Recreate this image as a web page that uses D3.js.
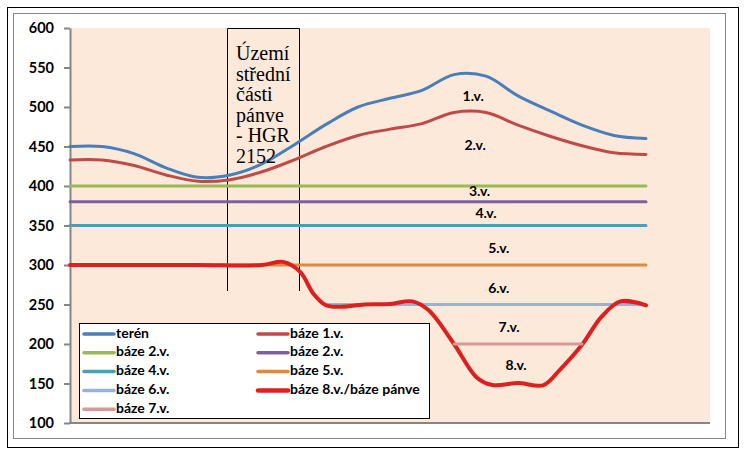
<!DOCTYPE html>
<html><head><meta charset="utf-8">
<script src="https://cdn.jsdelivr.net/npm/d3@7"></script>
<style>html,body{margin:0;padding:0;background:#fff;}svg{display:block;}</style>
</head><body>
<svg id="c" width="747" height="454"></svg>
<script>
// ---- data ----
const yTicks = [100,150,200,250,300,350,400,450,500,550,600];
const teren  = [[0,450],[0.5,450],[1,441],[1.5,423],[2,411],[2.5,414],[3,428],[3.5,452],[4,478],[4.5,500],[5,511],[5.5,521],[6,541],[6.5,539],[7,514],[7.5,495],[8,477],[8.5,464],[9,460]];
const baze1  = [[0,433],[0.5,433],[1,426],[1.5,414],[2,406],[2.5,408],[3,418],[3.5,433],[4,450],[4.5,464],[5,472],[5.5,479],[6,493],[6.5,493],[7,477],[7.5,463],[8,451],[8.5,442],[9,440]];
const baze2g = [[0,400],[9,400]];
const baze2p = [[0,380],[9,380]];
const baze4  = [[0,350],[9,350]];
const baze5  = [[0,300],[9,300]];
const baze6  = [[4,250],[9,250]];
const baze8  = [[0,300],[1,300],[2,300],[3,300],[3.33,304],[3.6,291],[3.8,264],[4,249],[4.2,247],[4.6,250],[5,250.5],[5.35,254],[5.6,243],[6,200],[6.35,158],[6.6,148],[7,150.5],[7.4,148],[7.65,167],[8,199],[8.3,234],[8.6,254],[9,249]];
const baze7  = [[6,200],[8,200]];
const seriesNames = ["terén","báze 1.v.","báze 2.v.","báze 2.v.","báze 4.v.","báze 5.v.","báze 6.v.","báze 8.v./báze pánve","báze 7.v."];
const seriesData  = [teren,baze1,baze2g,baze2p,baze4,baze5,baze6,baze8,baze7];
const seriesColors = ["#4a7ebb","#be4b48","#98b954","#7d60a0","#4a9fb6","#d98a46","#95b3d7","#dc2020","#d99795"];
const seriesWidths = [3,3,3,3,3,3,3,4,3];
const levelLabels = ["1.v.","2.v.","3.v.","4.v.","5.v.","6.v.","7.v.","8.v."];
const levelLabelPos = [[6.3,512.5],[6.33,449.5],[6.4,392.5],[6.5,364.5],[6.7,320],[6.7,269.5],[6.86,220],[6.97,172]];
const boxLines = ["Území","střední","části","pánve","- HGR","2152"];

// ---- layout ----
const svg = d3.select("#c");
const L = 70, R = 710, T = 28, B = 423;
const x = d3.scaleLinear().domain([0,10]).range([L,R]);
const y = d3.scaleLinear().domain([100,600]).range([B,T]);

svg.append("rect").attr("x",7.5).attr("y",7.5).attr("width",731).attr("height",440).attr("fill","#fff").attr("stroke","#000").attr("stroke-width",1);
svg.append("rect").attr("x",13.5).attr("y",13.5).attr("width",712).attr("height",425).attr("fill","#fff").attr("stroke","#868686").attr("stroke-width",1);
svg.append("rect").attr("x",L).attr("y",T).attr("width",R-L).attr("height",B-T).attr("fill","#fde9da");

// axes
const ya = svg.append("g").attr("transform",`translate(${L},0)`)
  .call(d3.axisLeft(y).tickValues(yTicks).tickSize(6).tickPadding(10).tickSizeOuter(0));
ya.select(".domain").attr("stroke","#868686").attr("stroke-width",2);
ya.selectAll(".tick line").attr("stroke","#868686").attr("stroke-width",2);
ya.selectAll(".tick text").attr("fill","#000").style("font-family","Lato, 'Open Sans', sans-serif").style("font-weight","bold").style("font-size","14.5px");
svg.append("line").attr("x1",L-1).attr("x2",R).attr("y1",B).attr("y2",B).attr("stroke","#868686").attr("stroke-width",2);

// text box
const bx0 = 227.5, bx1 = 299.5, bTop = 28.5, bBot = 291;
svg.append("path").attr("d",`M${bx0},${bBot}V${bTop}H${bx1}V${bBot}`).attr("fill","none").attr("stroke","#000").attr("stroke-width",1);

// lines
const line = d3.line().x(d=>x(d[0])).y(d=>y(d[1])).curve(d3.curveCatmullRom.alpha(0.5));
seriesData.forEach((s,i)=>{
  svg.append("path").attr("d",line(s)).attr("fill","none")
    .attr("stroke",seriesColors[i]).attr("stroke-width",seriesWidths[i])
    .attr("stroke-linecap","round").attr("stroke-linejoin","round");
});

// box text
const bt = svg.append("text").attr("x",236).attr("y",60)
  .style("font-family","'Liberation Serif','Times New Roman',serif").style("font-size","20px").attr("fill","#000");
boxLines.forEach((t,i)=>bt.append("tspan").attr("x",236).attr("y",60+i*20.6).text(t));

// level labels
levelLabels.forEach((t,i)=>{
  svg.append("text").attr("x",x(levelLabelPos[i][0])).attr("y",y(levelLabelPos[i][1]))
    .attr("text-anchor","middle").attr("dominant-baseline","middle")
    .style("font-family","Lato, 'Open Sans', sans-serif").style("font-weight","bold").style("font-size","14px")
    .attr("fill","#000").text(t);
});

// legend
const lg = svg.append("g");
lg.append("rect").attr("x",79.5).attr("y",323.5).attr("width",350).attr("height",95).attr("fill","#fff").attr("stroke","#000").attr("stroke-width",1);
seriesNames.forEach((n,i)=>{
  const col = i%2, row = Math.floor(i/2);
  const lx = col===0 ? 84 : 258;
  const ly = 334 + row*18.8;
  lg.append("line").attr("x1",lx).attr("x2",lx+30).attr("y1",ly).attr("y2",ly)
    .attr("stroke",seriesColors[i]).attr("stroke-width",seriesWidths[i]+0.5).attr("stroke-linecap","round");
  lg.append("text").attr("x",lx+32).attr("y",ly).attr("dominant-baseline","middle")
    .style("font-family","Lato, 'Open Sans', sans-serif").style("font-weight","bold").style("font-size","14px")
    .attr("fill","#000").text(n);
});
</script>
</body></html>
